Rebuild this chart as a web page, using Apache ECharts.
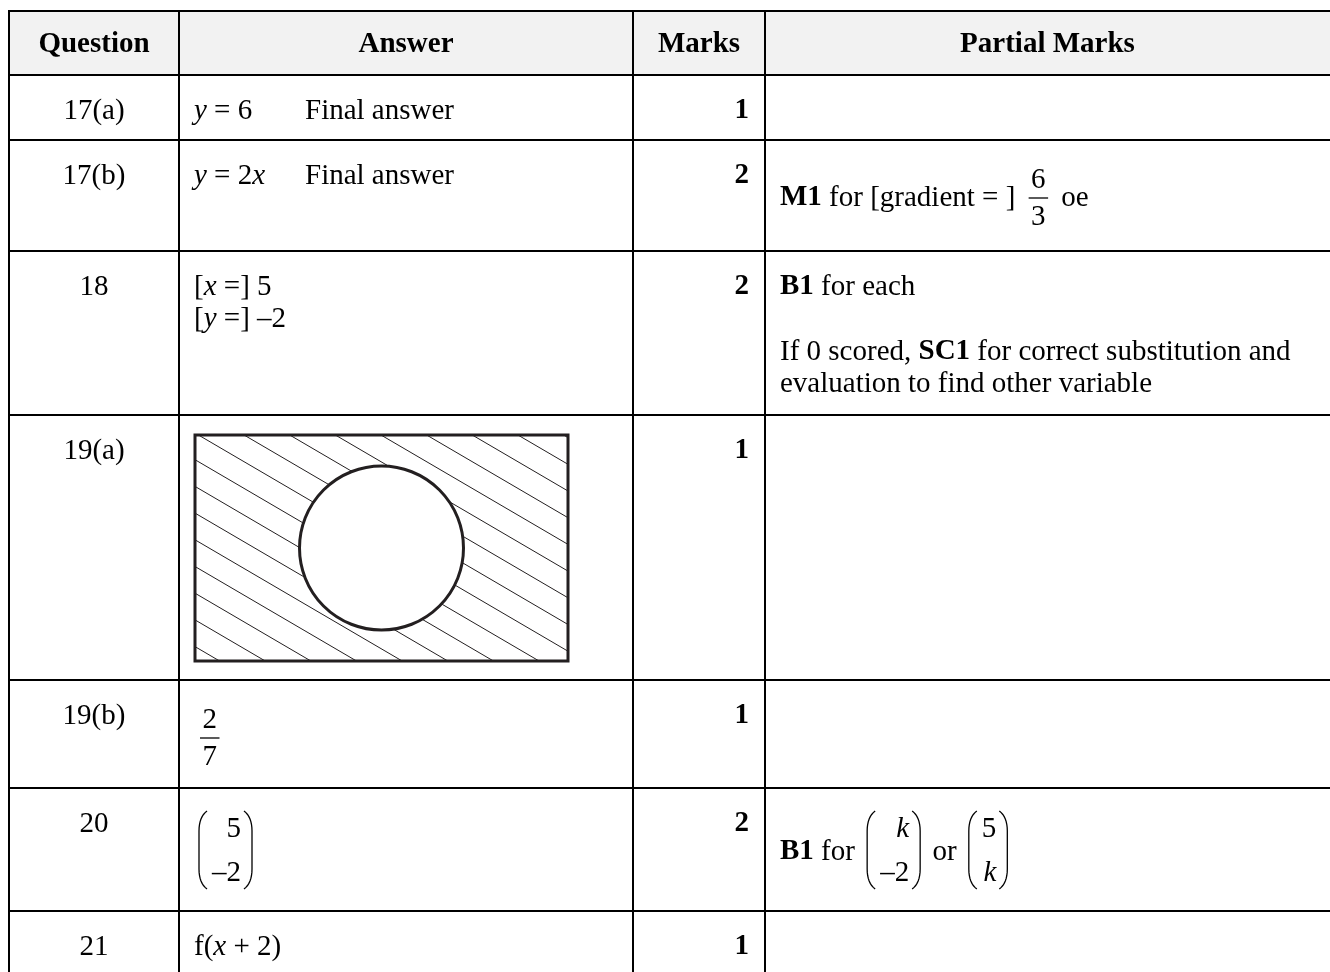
<!DOCTYPE html>
<html>
<head>
<meta charset="utf-8">
<title>Mark scheme 17-21</title>
<script src="https://cdn.jsdelivr.net/npm/echarts@6/dist/echarts.min.js"></script>
<style>
  html, body { margin: 0; padding: 0; background: #fff; }
  #main { width: 1330px; height: 972px; }
</style>
</head>
<body>
<div id="main"></div>
<script>
// table content ({i|..} italic, {b|..} bold)
const headers = ['{b|Question}', '{b|Answer}', '{b|Marks}', '{b|Partial Marks}'];
const questions = ['17(a)', '17(b)', '18', '19(a)', '19(b)', '20', '21'];
const answers = [
  ['{i|y} = 6'],
  ['{i|y} = 2{i|x}'],
  ['[{i|x} =] 5\n[{i|y} =] –2'],
  [{venn: true}],
  [{frac: ['2', '7']}],
  [{vec: ['5', '–2']}],
  ['f({i|x} + 2)']
];
const answerNotes = ['Final answer', 'Final answer', '', '', '', '', ''];
const marks = [1, 2, 2, 1, 1, 2, 1];
const partials = [
  [],
  ['{b|M1} for [gradient = ] ', {frac: ['6', '3']}, ' oe'],
  ['{b|B1} for each\n\nIf 0 scored, {b|SC1} for correct substitution and\nevaluation to find other variable'],
  [],
  [],
  ['{b|B1} for ', {vec: ['{i|k}', '–2']}, ' or ', {vec: ['5', '{i|k}']}],
  []
];

// layout
const colEdges = [9, 179, 633, 765, 1330];
const rowEdges = [11, 75, 140, 251, 415, 680, 788, 911, 972];
const FONT = '"Liberation Serif", "Times New Roman", serif';
const FS = 29;
const LH = 32.5;
const TY = 2; // text sits a little below the em-box middle
const INK = '#231f20';

const ctx = document.createElement('canvas').getContext('2d');
function fontOf(s) {
  return (s.i ? 'italic ' : '') + (s.b ? 'bold ' : '') + FS + 'px ' + FONT;
}
function runs(str) {
  const out = [];
  const re = /\{(\w)\|([^}]*)\}/g;
  let last = 0, m;
  while ((m = re.exec(str))) {
    if (m.index > last) out.push({t: str.slice(last, m.index)});
    out.push({t: m[2], b: m[1] === 'b', i: m[1] === 'i'});
    last = re.lastIndex;
  }
  if (last < str.length) out.push({t: str.slice(last)});
  return out;
}
function textWidth(str) {
  return runs(str).reduce((w, s) => {
    ctx.font = fontOf(s);
    return w + ctx.measureText(s.t).width;
  }, 0);
}

function drawer(api, els) {
  const P = (x, y) => api.coord([x, y]);
  const d = {};
  d.line = (x1, y1, x2, y2, w, c) => {
    const a = P(x1, y1), b = P(x2, y2);
    els.push({type: 'line', shape: {x1: a[0], y1: a[1], x2: b[0], y2: b[1]},
      style: {stroke: c || '#000', lineWidth: w || 2}});
  };
  d.poly = (pts, w) => {
    els.push({type: 'polyline', shape: {points: pts.map(p => P(p[0], p[1]))},
      style: {stroke: '#000', fill: null, lineWidth: w || 1.3}});
  };
  // one or more lines of rich text, returns x after the last line
  d.str = (str, x, y, align) => {
    let end = x;
    str.split('\n').forEach((ln, k) => {
      const w = textWidth(ln);
      let cx = align === 'center' ? x - w / 2 : align === 'right' ? x - w : x;
      runs(ln).forEach(s => {
        ctx.font = fontOf(s);
        const p = P(cx, y + k * LH + TY);
        els.push({type: 'text', x: p[0], y: p[1], style: {
          text: s.t, fontSize: FS, fontFamily: FONT,
          fontStyle: s.i ? 'italic' : 'normal', fontWeight: s.b ? 'bold' : 'normal',
          fill: '#000', align: 'left', verticalAlign: 'middle'}});
        cx += ctx.measureText(s.t).width;
      });
      end = cx;
    });
    return end;
  };
  d.frac = (f, x, yc) => {
    const w = Math.max(textWidth(f[0]), textWidth(f[1])) + 5;
    const x0 = x + 6;
    d.line(x0, yc + 2, x0 + w, yc + 2, 1.3);
    d.str(f[0], x0 + w / 2, yc - 18, 'center');
    d.str(f[1], x0 + w / 2, yc + 19, 'center');
    return x0 + w + 6;
  };
  d.paren = (px, yt, yb, left) => {
    const pts = [];
    const q = (a, c, b, t) => (1 - t) * (1 - t) * a + 2 * (1 - t) * t * c + t * t * b;
    const ox = left ? px + 9 : px, ix = left ? px + 1 : px + 8;
    for (let t = 0; t <= 1.0001; t += 0.125) pts.push([q(ox, ix, ix, t), q(yt, yt + 6, yt + 20, t)]);
    for (let t = 0; t <= 1.0001; t += 0.125) pts.push([q(ix, ix, ox, t), q(yb - 20, yb - 6, yb, t)]);
    d.poly(pts, 1.3);
  };
  d.vec = (v, x, yc) => {
    const ew = Math.max(textWidth(v[0]), textWidth(v[1]));
    const px = x + 4;
    d.paren(px, yc - 39, yc + 39, true);
    const right = px + 9 + 5 + ew;
    d.str(v[0], right, yc - 23, 'right');
    d.str(v[1], right, yc + 21, 'right');
    d.paren(right + 3, yc - 39, yc + 39, false);
    return right + 3 + 9 + 4;
  };
  d.venn = (x, y) => {
    const W = 373, H = 226, r = 82, m = 0.585, gap = 26.7, phase = -2;
    const cx = W / 2, cy = H / 2;
    for (let k = -10; k <= 9; k++) {
      const yl = phase + k * gap;
      const xa = Math.max(0, -yl / m), xb = Math.min(W, (H - yl) / m);
      if (xa >= xb) continue;
      const A = 1 + m * m, B = 2 * (m * (yl - cy) - cx), C = cx * cx + (yl - cy) * (yl - cy) - r * r;
      const disc = B * B - 4 * A * C;
      let segs = [[xa, xb]];
      if (disc > 0) {
        const r1 = (-B - Math.sqrt(disc)) / (2 * A), r2 = (-B + Math.sqrt(disc)) / (2 * A);
        segs = [[xa, Math.min(xb, r1)], [Math.max(xa, r2), xb]];
      }
      segs.forEach(s => {
        if (s[1] > s[0]) d.line(x + s[0], y + yl + m * s[0], x + s[1], y + yl + m * s[1], 1, INK);
      });
    }
    const a = P(x, y), b = P(x + W, y + H), c = P(x + cx, y + cy);
    els.push({type: 'rect', shape: {x: a[0], y: a[1], width: b[0] - a[0], height: b[1] - a[1]},
      style: {fill: null, stroke: INK, lineWidth: 3}});
    els.push({type: 'circle', shape: {cx: c[0], cy: c[1], r: r},
      style: {fill: null, stroke: INK, lineWidth: 3}});
  };
  d.inline = (items, x, yc, top) => {
    let cx = x;
    items.forEach(it => {
      if (typeof it === 'string') cx = d.str(it, cx, yc, 'left');
      else if (it.frac) cx = d.frac(it.frac, cx, yc);
      else if (it.vec) cx = d.vec(it.vec, cx, yc);
      else if (it.venn) d.venn(x + 1, top + 20);
    });
  };
  return d;
}

function cellCenter(items, top) {
  if (items.some(v => v.vec)) return top + 62;
  if (items.some(v => v.frac)) return top + 56;
  return top + 34;
}

function renderHeader(params, api) {
  const els = [];
  const top = rowEdges[0], bot = rowEdges[1];
  const a = api.coord([colEdges[0], top]), b = api.coord([colEdges[4], bot]);
  els.push({type: 'rect', shape: {x: a[0], y: a[1], width: b[0] - a[0], height: b[1] - a[1]},
    style: {fill: '#f2f2f2'}});
  const d = drawer(api, els);
  d.line(colEdges[0] - 1, top, colEdges[4], top);
  for (let c = 0; c < 4; c++) d.line(colEdges[c], top, colEdges[c], bot);
  headers.forEach((h, c) => d.str(h, (colEdges[c] + colEdges[c + 1]) / 2, (top + bot) / 2, 'center'));
  return {type: 'group', children: els};
}

function renderRow(params, api) {
  const i = api.value(0);
  const top = rowEdges[i + 1], bot = rowEdges[i + 2];
  const els = [];
  const d = drawer(api, els);
  d.line(colEdges[0] - 1, top, colEdges[4], top);
  for (let c = 0; c < 4; c++) d.line(colEdges[c], top, colEdges[c], bot);
  d.str(questions[i], (colEdges[0] + colEdges[1]) / 2, top + 34, 'center');
  d.inline(answers[i], colEdges[1] + 15, cellCenter(answers[i], top), top);
  if (answerNotes[i]) d.str(answerNotes[i], colEdges[1] + 126, top + 34, 'left');
  d.str('{b|' + marks[i] + '}', colEdges[3] - 16, top + 34, 'right');
  d.inline(partials[i], colEdges[3] + 15, cellCenter(partials[i], top), top);
  return {type: 'group', children: els};
}

const chart = echarts.init(document.getElementById('main'));
chart.setOption({
  animation: false,
  grid: {left: 0, right: 0, top: 0, bottom: 0},
  xAxis: {type: 'value', min: 0, max: 1330, show: false},
  yAxis: {type: 'value', min: 0, max: 972, inverse: true, show: false},
  series: [
    {type: 'custom', renderItem: renderHeader, data: [[0, 0]], silent: true},
    {type: 'custom', renderItem: renderRow, data: questions.map((q, i) => [i, 0]), silent: true}
  ]
});
</script>
</body>
</html>
